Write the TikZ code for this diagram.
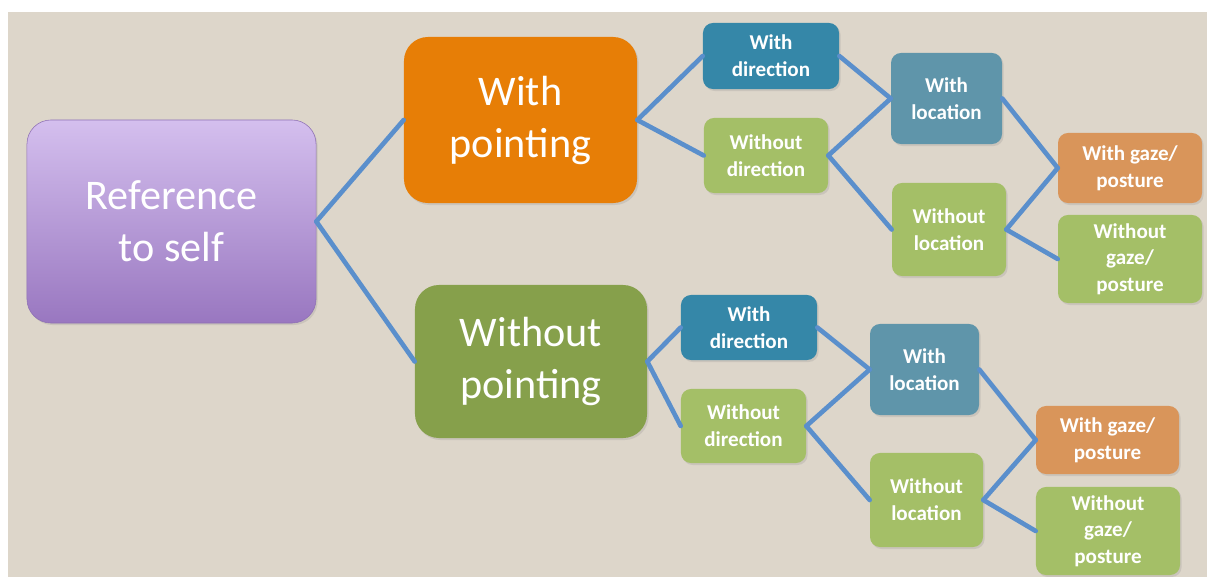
\documentclass[tikz,border=0pt]{standalone}
\usepackage{fontspec}
\setmainfont{Carlito}
\usetikzlibrary{shadows}
\definecolor{paper}{HTML}{DDD6CA}
\definecolor{linkblue}{HTML}{5A8FCC}
\definecolor{rootTop}{HTML}{D4BFEE}
\definecolor{rootBot}{HTML}{9977C0}
\definecolor{rootLine}{HTML}{8E70B4}
\definecolor{pointOrange}{HTML}{E77E06}
\definecolor{pointGreen}{HTML}{86A04B}
\definecolor{dirBlue}{HTML}{3587A8}
\definecolor{locBlue}{HTML}{5F95AA}
\definecolor{lightGreen}{HTML}{A4BF67}
\definecolor{gazeOrange}{HTML}{D9955A}
\tikzset{
  box/.style={rounded corners=0.25cm, text=white, align=center, inner sep=0pt,
    font=\fontsize{15}{19}\selectfont\bfseries,
    drop shadow={opacity=0.2, shadow xshift=0.04cm, shadow yshift=-0.05cm}},
  bigbox/.style={box, rounded corners=0.6cm, font=\fontsize{30}{37}\selectfont},
  link/.style={draw=linkblue, line width=3.3pt, line cap=round}
}
\begin{document}
\begin{tikzpicture}[x=0.025cm,y=-0.025cm]
      \useasboundingbox (0,0) rectangle (1207,577);
      \fill[white] (0,0) rectangle (1207,577);
      \fill[paper] (8,12) rectangle (1207,577);
      \node[bigbox, top color=rootTop, bottom color=rootBot, draw=rootLine, thin,
        minimum width=7.225cm, minimum height=5.075cm] (self) at (171.5,221.5) {Reference\\to self};
      \node[bigbox, fill=pointOrange, minimum width=5.825cm, minimum height=4.15cm]
        (wp) at (520.5,120) {With\\pointing};
      \node[bigbox, fill=pointGreen, minimum width=5.8cm, minimum height=3.825cm]
        (wop) at (531,361.5) {Without\\pointing};
      \node[box, fill=dirBlue, minimum width=3.4cm, minimum height=1.65cm]
        (wpdir) at (771,56) {With\\direction};
      \node[box, fill=lightGreen, minimum width=3.1cm, minimum height=1.875cm]
        (wpnodir) at (766,155.5) {Without\\direction};
      \node[box, fill=locBlue, minimum width=2.775cm, minimum height=2.275cm]
        (wploc) at (946.5,98.5) {With\\location};
      \node[box, fill=lightGreen, minimum width=2.85cm, minimum height=2.325cm]
        (wpnoloc) at (949,229.5) {Without\\location};
      \node[box, fill=gazeOrange, minimum width=3.6cm, minimum height=1.75cm]
        (wpgaze) at (1130,168) {With gaze/\\posture};
      \node[box, fill=lightGreen, minimum width=3.6cm, minimum height=2.2cm]
        (wpnogaze) at (1130,259) {Without\\gaze/\\posture};
      \node[box, fill=dirBlue, minimum width=3.4cm, minimum height=1.625cm]
        (wopdir) at (749,327.5) {With\\direction};
      \node[box, fill=lightGreen, minimum width=3.125cm, minimum height=1.85cm]
        (wopnodir) at (743.5,426) {Without\\direction};
      \node[box, fill=locBlue, minimum width=2.725cm, minimum height=2.275cm]
        (woploc) at (924.5,369.5) {With\\location};
      \node[box, fill=lightGreen, minimum width=2.825cm, minimum height=2.35cm]
        (wopnoloc) at (926.5,500) {Without\\location};
      \node[box, fill=gazeOrange, minimum width=3.575cm, minimum height=1.7cm]
        (wopgaze) at (1107.5,440) {With gaze/\\posture};
      \node[box, fill=lightGreen, minimum width=3.6cm, minimum height=2.2cm]
        (wopnogaze) at (1108,531) {Without\\gaze/\\posture};
      \begin{scope}[link]
        \draw (self.east) to (wp.west);
        \draw (self.east) to (wop.west);
        \draw (wp.east) to (wpdir.west);
        \draw (wp.east) to (wpnodir.west);
        \draw (wpdir.east) to (wploc.west);
        \draw (wpnodir.east) to (wploc.west);
        \draw (wpnodir.east) to (wpnoloc.west);
        \draw (wploc.east) to (wpgaze.west);
        \draw (wpnoloc.east) to (wpgaze.west);
        \draw (wpnoloc.east) to (wpnogaze.west);
        \draw (wop.east) to (wopdir.west);
        \draw (wop.east) to (wopnodir.west);
        \draw (wopdir.east) to (woploc.west);
        \draw (wopnodir.east) to (woploc.west);
        \draw (wopnodir.east) to (wopnoloc.west);
        \draw (woploc.east) to (wopgaze.west);
        \draw (wopnoloc.east) to (wopgaze.west);
        \draw (wopnoloc.east) to (wopnogaze.west);
      \end{scope}
    \end{tikzpicture}
\end{document}
